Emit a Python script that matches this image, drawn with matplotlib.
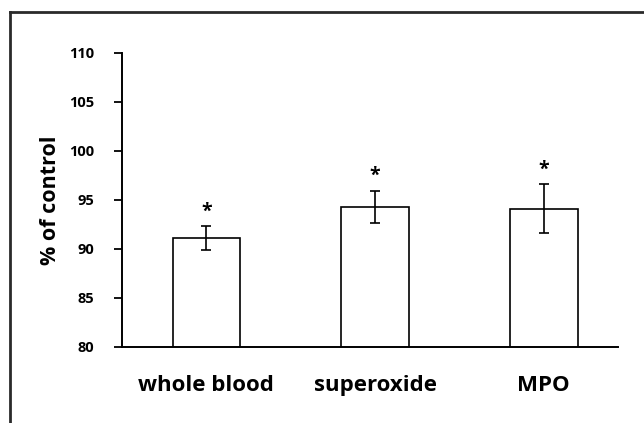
import matplotlib.pyplot as plt
from matplotlib.lines import Line2D

categories = ['whole blood', 'superoxide', 'MPO']
values = [91.1, 94.3, 94.1]
errors = [1.2, 1.65, 2.5]
y_ticks = [80, 85, 90, 95, 100, 105, 110]

plt.rcParams['font.family'] = ['Open Sans', 'DejaVu Sans']

fig = plt.figure(figsize=(6.44, 4.23), dpi=100)
ax = fig.add_axes([122/644, 76/423, 496/644, 294/423])

x = range(len(categories))
ax.bar(x, values, width=0.4, color='white', edgecolor='black', linewidth=1.2,
       yerr=errors, error_kw=dict(ecolor='black', elinewidth=1.2, capsize=3.5, capthick=1.2))

# significance stars above the error bars
for i, (v, e) in enumerate(zip(values, errors)):
    ax.text(i, v + e + 0.5, '*', ha='center', va='bottom', fontsize=14, fontweight='bold')

ax.set_ylim(80, 110)
ax.set_xlim(-0.5, 2.44)
ax.set_yticks(y_ticks)
ax.set_yticklabels([str(t) for t in y_ticks], fontsize=10.5, fontweight='bold')
ax.tick_params(axis='y', direction='out', length=6, width=1.3, pad=14)
ax.set_xticks(list(x))
ax.set_xticklabels(categories, fontsize=16, fontweight='bold')
ax.tick_params(axis='x', length=0, pad=20)
ax.set_ylabel('% of control', fontsize=15.5, fontweight='bold', labelpad=6)

for s in ['top', 'right']:
    ax.spines[s].set_visible(False)
for s in ['left', 'bottom']:
    ax.spines[s].set_linewidth(1.4)

# outer frame (left and top edges only visible)
fig.add_artist(Line2D([10/644, 10/644], [0, 1 - 12/423], transform=fig.transFigure, color='#2a2a2a', lw=2))
fig.add_artist(Line2D([10/644, 1], [1 - 12/423, 1 - 12/423], transform=fig.transFigure, color='#2a2a2a', lw=2))

fig.savefig('out.png', dpi=100)
